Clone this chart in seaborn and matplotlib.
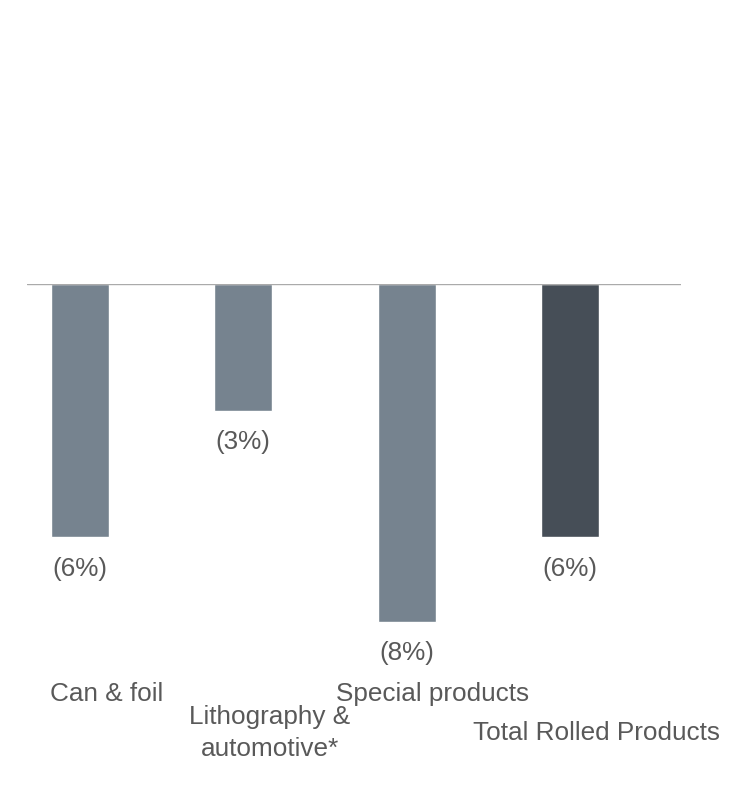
import matplotlib
matplotlib.use("Agg")
import matplotlib.pyplot as plt
import seaborn as sns
import pandas as pd

# data
categories = ["Can & foil", "Lithography &\nautomotive*", "Special products", "Total Rolled Products"]
values = [-6, -3, -8, -6]
value_labels = ["(6%)", "(3%)", "(8%)", "(6%)"]
is_total = [False, False, False, True]

df = pd.DataFrame({"category": categories, "value": values,
                   "kind": ["total" if t else "segment" for t in is_total]})

sns.set_theme(style="white")
plt.rcParams["font.family"] = ["Liberation Sans", "DejaVu Sans"]

TEXT = "#595959"
FS = 18.8

fig = plt.figure(figsize=(7.56, 7.85), dpi=100)
ax = fig.add_axes([27 / 756, 1 - 706 / 785, 654 / 756, 422 / 785])

sns.barplot(data=df, x="category", y="value", hue="kind",
            palette={"segment": "#76838F", "total": "#464E57"},
            width=0.355, saturation=1, legend=False, ax=ax)

ax.set_xlim(-0.3245, 3.68)
ax.set_ylim(-10, 0)
ax.axhline(0, color="#AAAAAA", linewidth=1.0, zorder=3)
ax.axis("off")

# value labels under each bar
for i, (v, lab) in enumerate(zip(values, value_labels)):
    ax.annotate(lab, xy=(i, v), xytext=(0, -14), textcoords="offset points",
                ha="center", va="top", fontsize=FS, color=TEXT)

# staggered category labels (row centres)
row_y = [1 - 694 / 785, 1 - 733 / 785]
for i, cat in enumerate(categories):
    ax.annotate(cat, xy=(i, row_y[i % 2]), xycoords=("data", "figure fraction"),
                xytext=(19, 0), textcoords="offset points",
                ha="center", va="center", fontsize=FS, color=TEXT,
                linespacing=1.4)

plt.savefig("out.png", dpi=100)
plt.close()
